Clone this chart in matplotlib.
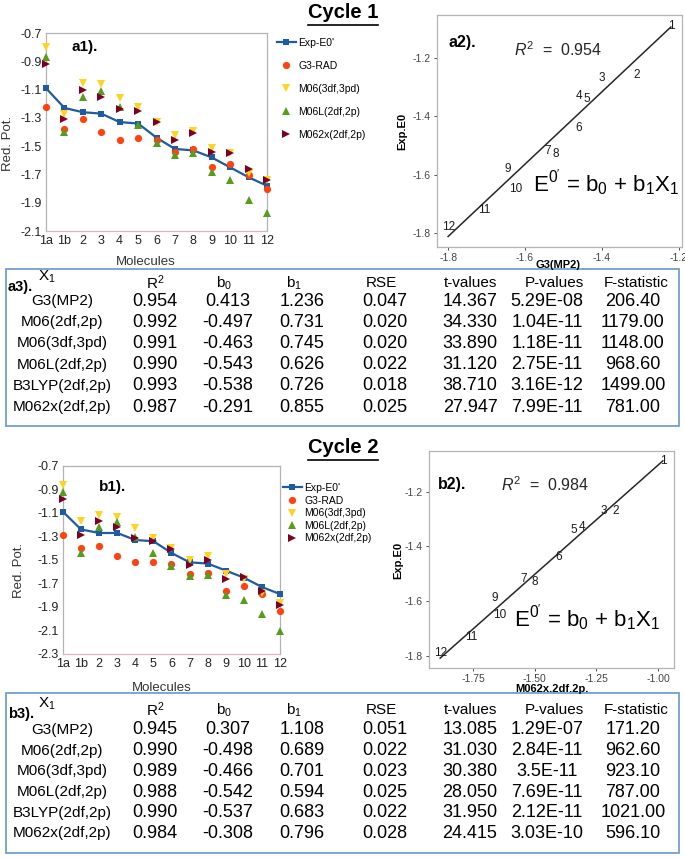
import numpy as np
import matplotlib
matplotlib.use("Agg")
import matplotlib.pyplot as plt
from matplotlib.lines import Line2D
from matplotlib.patches import Rectangle

plt.rcParams['font.family'] = ['Liberation Sans', 'DejaVu Sans']
plt.rcParams['mathtext.fontset'] = 'custom'
plt.rcParams['mathtext.rm'] = 'Liberation Sans'
plt.rcParams['mathtext.it'] = 'Liberation Sans:italic'
plt.rcParams['mathtext.bf'] = 'Liberation Sans:bold'

# molecules along the x axis of a1 / b1
molecules = ['1a', '1b', '2', '3', '4', '5', '6', '7', '8', '9', '10', '11', '12']

# cycle 1 reduction potentials (V)
exp_c1 = [-1.09, -1.23, -1.26, -1.27, -1.33, -1.34, -1.44, -1.52, -1.53, -1.58, -1.65, -1.72, -1.78]
g3_c1 = [-1.22, -1.38, -1.31, -1.40, -1.46, -1.44, -1.46, -1.54, -1.52, -1.645, -1.625, -1.705, -1.80]
m06_c1 = [-0.80, -1.27, -1.05, -1.06, -1.16, -1.22, -1.33, -1.42, -1.39, -1.51, -1.55, -1.69, -1.74]
m06l_c1 = [-0.87, -1.40, -1.15, -1.11, -1.22, -1.35, -1.48, -1.56, -1.55, -1.68, -1.74, -1.88, -1.97]
m062x_c1 = [-0.92, -1.31, -1.10, -1.15, -1.24, -1.25, -1.33, -1.46, -1.41, -1.54, -1.55, -1.66, -1.74]

# cycle 2 reduction potentials (V)
exp_c2 = [-1.09, -1.24, -1.27, -1.27, -1.33, -1.34, -1.44, -1.52, -1.53, -1.59, -1.65, -1.73, -1.79]
g3_c2 = [-1.29, -1.40, -1.38, -1.47, -1.52, -1.52, -1.53, -1.62, -1.61, -1.76, -1.72, -1.79, -1.93]
m06_c2 = [-0.86, -1.17, -1.12, -1.13, -1.23, -1.31, -1.40, -1.50, -1.47, -1.62, -1.66, -1.78, -1.87]
m06l_c2 = [-0.92, -1.44, -1.22, -1.18, -1.30, -1.44, -1.55, -1.64, -1.63, -1.80, -1.84, -1.96, -2.10]
m062x_c2 = [-0.98, -1.29, -1.17, -1.22, -1.31, -1.34, -1.405, -1.545, -1.50, -1.665, -1.645, -1.76, -1.885]

# regression tables
methods = ['G3(MP2)', 'M06(2df,2p)', 'M06(3df,3pd)', 'M06L(2df,2p)', 'B3LYP(2df,2p)', 'M062x(2df,2p)']
r2_c1 = [0.954, 0.992, 0.991, 0.990, 0.993, 0.987]
b0_c1 = [0.413, -0.497, -0.463, -0.543, -0.538, -0.291]
b1_c1 = [1.236, 0.731, 0.745, 0.626, 0.726, 0.855]
rse_c1 = [0.047, 0.020, 0.020, 0.022, 0.018, 0.025]
t_c1 = [14.367, 34.330, 33.890, 31.120, 38.710, 27.947]
p_c1 = ['5.29E-08', '1.04E-11', '1.18E-11', '2.75E-11', '3.16E-12', '7.99E-11']
f_c1 = [206.40, 1179.00, 1148.00, 968.60, 1499.00, 781.00]

r2_c2 = [0.945, 0.990, 0.989, 0.988, 0.990, 0.984]
b0_c2 = [0.307, -0.498, -0.466, -0.542, -0.537, -0.308]
b1_c2 = [1.108, 0.689, 0.701, 0.594, 0.683, 0.796]
rse_c2 = [0.051, 0.022, 0.023, 0.025, 0.022, 0.028]
t_c2 = [13.085, 31.030, 30.380, 28.050, 31.950, 24.415]
p_c2 = ['1.29E-07', '2.84E-11', '3.5E-11', '7.69E-11', '2.12E-11', '3.03E-10']
f_c2 = [171.20, 962.60, 923.10, 787.00, 1021.00, 596.10]

BLUE = '#1f5ba0'
ORANGE = '#ff420e'
YELLOW = '#ffd320'
GREEN = '#579d1c'
MAROON = '#7e0021'
BOX = '#729fcf'

W, H = 685, 858
fig = plt.figure(figsize=(W / 100, H / 100), dpi=100)


def fx(x):
    return x / W


def fy(y):
    return 1 - y / H


def rect(l, t, r, b):
    return [l / W, 1 - b / H, (r - l) / W, (b - t) / H]


def title(text, cx, base):
    t = fig.text(fx(cx), fy(base), text, ha='center', va='baseline',
                 fontsize=14.5, fontweight='bold')
    fig.canvas.draw()
    bb = t.get_window_extent()
    yl = bb.y0 - 2.5
    fig.add_artist(Line2D([bb.x0 / W, bb.x1 / W], [yl / H, yl / H],
                          transform=fig.transFigure, color='black', lw=1.2))


def line_panel(box, exp, g3, m06, m06l, m062x, ylim, tag, tag_xy, leg_xy, leg_space,
               xlab_xy, ylab_xy):
    ax = fig.add_axes(box)
    x = np.arange(len(molecules))
    ax.plot(x, exp, color=BLUE, lw=1.6, marker='s', ms=4.5, mew=0, clip_on=False,
            zorder=3, label="Exp-E0'")
    ax.plot(x, g3, ls='none', marker='o', ms=5.2, color=ORANGE, mew=0, clip_on=False,
            zorder=4, label='G3-RAD')
    ax.plot(x, m06, ls='none', marker='v', ms=6, color=YELLOW, mew=0, clip_on=False,
            zorder=5, label='M06(3df,3pd)')
    ax.plot(x, m06l, ls='none', marker='^', ms=6, color=GREEN, mew=0, clip_on=False,
            zorder=6, label='M06L(2df,2p)')
    ax.plot(x, m062x, ls='none', marker='>', ms=6, color=MAROON, mew=0, clip_on=False,
            zorder=7, label='M062x(2df,2p)')
    ax.set_xlim(0, len(molecules) - 1)
    ax.set_ylim(*ylim)
    ax.set_xticks(x, molecules)
    yt = np.arange(ylim[0], ylim[1] + 0.01, 0.2)
    ax.set_yticks(yt, ['%.1f' % v for v in yt])
    ax.tick_params(length=0, labelsize=9, colors='#222222', pad=3)
    for s in ax.spines.values():
        s.set_color('#b3b3b3')
        s.set_linewidth(0.9)
    ax.spines['bottom'].set_color('#dcb4ba')
    ax.text(*tag_xy, tag, transform=fig.transFigure, ha='center', va='center',
            fontsize=11, fontweight='bold')
    fig.text(fx(xlab_xy[0]), fy(xlab_xy[1]), 'Molecules', ha='center', va='center',
             fontsize=9.5, color='#333333')
    fig.text(fx(ylab_xy[0]), fy(ylab_xy[1]), 'Red. Pot.', ha='center', va='center',
             rotation=90, fontsize=9.5, color='#333333')
    h, l = ax.get_legend_handles_labels()
    fig.legend(h, l, loc='upper left', bbox_to_anchor=(fx(leg_xy[0]), fy(leg_xy[1])),
               frameon=False, borderpad=0, borderaxespad=0, handlelength=1.8,
               handletextpad=0.25, labelspacing=leg_space, fontsize=7.5)
    return ax


def fit_panel(box, xs, ys, labels, b0, b1, r2, xticks, xfmt, xlabel, tag,
              tag_xy, r2_xy, eq_xy, xlab_xy, ylab_xy):
    ax = fig.add_axes(box)
    xs = np.asarray(xs)
    ys = np.asarray(ys)
    lx = np.array([xs.min(), xs.max()])
    ly = b0 + b1 * lx
    ax.plot(lx, ly, color='#262626', lw=1.1)
    for lab, xv, yv in zip(labels, xs, ys):
        ax.text(xv, yv, lab, ha='center', va='center', fontsize=8.5, color='#1a1a1a')
    xr = xs.max() - xs.min()
    ax.set_xlim(xs.min() - 0.05 * xr, xs.max() + 0.05 * xr)
    ally = np.concatenate([ys, ly])
    yr = ally.max() - ally.min()
    ax.set_ylim(ally.min() - 0.05 * yr, ally.max() + 0.05 * yr)
    ax.set_xticks(xticks, [xfmt % v for v in xticks])
    yt = [-1.8, -1.6, -1.4, -1.2]
    ax.set_yticks(yt, ['%.1f' % v for v in yt])
    ax.tick_params(length=2.5, width=0.6, color='#333333', labelsize=7.5,
                   labelcolor='#444444', pad=2)
    for s in ax.spines.values():
        s.set_color('#b5b5b5')
        s.set_linewidth(0.9)
    fig.text(fx(tag_xy[0]), fy(tag_xy[1]), tag, ha='center', va='center',
             fontsize=11.5, fontweight='bold')
    fig.text(fx(r2_xy[0]), fy(r2_xy[1]), r'$\mathit{R}^2$  =  %.3f' % r2,
             ha='center', va='center', fontsize=11.5, color='#262626')
    fig.text(fx(eq_xy[0]), fy(eq_xy[1]), r"E$^{0'}$ = b$_0$ + b$_1$X$_1$",
             ha='center', va='center', fontsize=16)
    fig.text(fx(xlab_xy[0]), fy(xlab_xy[1]), xlabel, ha='center', va='center',
             fontsize=8, fontweight='bold')
    fig.text(fx(ylab_xy[0]), fy(ylab_xy[1]), 'Exp.E0', ha='center', va='center',
             rotation=90, fontsize=8, fontweight='bold')
    return ax


def table(top, bottom, tag, head_y, row_y0, row_dy, r2, b0, b1, rse, tv, pv, fv):
    fig.add_artist(Rectangle((fx(6), fy(bottom)), (679 - 6) / W, (bottom - top) / H,
                             transform=fig.transFigure, fill=False, ec=BOX, lw=1.3))
    fig.text(fx(8), fy(head_y + 4), tag, ha='left', va='center', fontsize=10.5,
             fontweight='bold')
    fig.text(fx(47), fy(head_y - 6), r'X$_1$', ha='center', va='center', fontsize=11)
    heads = [(155, r'R$^2$'), (224, r'b$_0$'), (294, r'b$_1$'), (381, 'RSE'),
             (471, 't-values'), (554, 'P-values'), (636, 'F-statistic')]
    for cx, s in heads:
        fig.text(fx(cx), fy(head_y), s, ha='center', va='center', fontsize=11)
    cols = [155, 228, 302, 385, 470, 547, 633]
    for i, m in enumerate(methods):
        y = row_y0 + i * row_dy
        fig.text(fx(62), fy(y), m, ha='center', va='center', fontsize=11)
        vals = ['%.3f' % r2[i], '%.3f' % b0[i], '%.3f' % b1[i], '%.3f' % rse[i],
                '%.3f' % tv[i], pv[i], '%.2f' % fv[i]]
        for cx, v in zip(cols, vals):
            fig.text(fx(cx), fy(y), v, ha='center', va='center', fontsize=13)


# ---- cycle 1 ----
title('Cycle 1', 343, 18)
line_panel(rect(46, 33, 267, 231), exp_c1, g3_c1, m06_c1, m06l_c1, m062x_c1,
           (-2.1, -0.7), 'a1).', (fx(85), fy(47)), (277, 38), 1.25,
           (146, 262), (8, 143))

keep = [i for i, m in enumerate(molecules) if m != '1b']
pt_labels = ['1'] + molecules[2:]
fit_panel(rect(437, 15, 682, 247), [g3_c1[i] for i in keep], [exp_c1[i] for i in keep],
          pt_labels, b0_c1[0], b1_c1[0], r2_c1[0], [-1.8, -1.6, -1.4, -1.2], '%.1f',
          'G3(MP2)', 'a2).', (462, 43), (558, 50), (606, 183), (558, 265), (402, 131))

table(269, 426, 'a3).', 283, 301, 21.2, r2_c1, b0_c1, b1_c1, rse_c1, t_c1, p_c1, f_c1)

# ---- cycle 2 ----
title('Cycle 2', 343, 453)
line_panel(rect(63, 466, 280, 654), exp_c2, g3_c2, m06_c2, m06l_c2, m062x_c2,
           (-2.3, -0.7), 'b1).', (fx(113), fy(487)), (283, 483), 0.25,
           (162, 688), (19, 570))

fit_panel(rect(429, 451, 674, 668), [m062x_c2[i] for i in keep], [exp_c2[i] for i in keep],
          pt_labels, b0_c2[5], b1_c2[5], r2_c2[5], [-1.75, -1.50, -1.25, -1.00], '%.2f',
          'M062x.2df.2p.', 'b2).', (452, 485), (545, 485), (587, 618), (552, 689), (398, 560))

table(693, 853, 'b3).', 710, 730, 20.7, r2_c2, b0_c2, b1_c2, rse_c2, t_c2, p_c2, f_c2)

fig.savefig('out.png', dpi=100)
